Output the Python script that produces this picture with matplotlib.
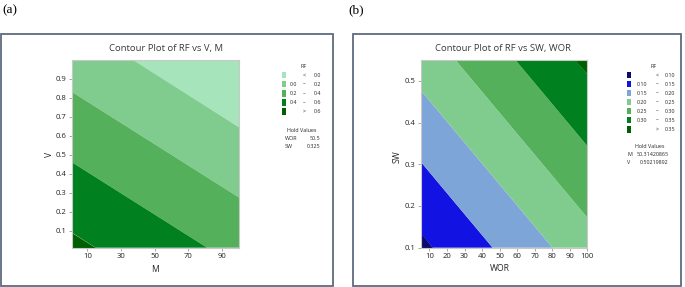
import numpy as np
import matplotlib
matplotlib.use("Agg")
import matplotlib.pyplot as plt
from matplotlib.patches import Rectangle

# ---------------- data ----------------
# Panel (a): RF over M (x) and V (y), WOR and SW held
M_vals = [1, 100]
V_vals = [0.01, 1.0]
RF_a = [[0.642, 0.343],     # V = 0.01
        [0.108, -0.192]]    # V = 1.0
levels_a = [0.0, 0.2, 0.4, 0.6]
colors_a = ["#a6e4bb", "#80cc8f", "#55b05b", "#00801f", "#005f00"]
ticks_ax = [10, 30, 50, 70, 90]
ticks_ay = [0.1, 0.2, 0.3, 0.4, 0.5, 0.6, 0.7, 0.8, 0.9]
hold_a = [("WOR", "50.5"), ("SW", "0.325")]

# Panel (b): RF over WOR (x) and SW (y), M and V held
WOR_vals = [5, 100]
SW_vals = [0.1, 0.55]
RF_b = [[0.090, 0.229],     # SW = 0.1
        [0.221, 0.360]]     # SW = 0.55
levels_b = [0.10, 0.15, 0.20, 0.25, 0.30, 0.35]
colors_b = ["#0b0b6b", "#1212e2", "#7ea5d8", "#80cc8f", "#55b05b", "#00801f", "#005f00"]
ticks_bx = [10, 20, 30, 40, 50, 60, 70, 80, 90, 100]
ticks_by = [0.1, 0.2, 0.3, 0.4, 0.5]
hold_b = [("M", "50.31420865"), ("V", "0.50219892")]

# ---------------- layout ----------------
W, H = 685, 287
fig = plt.figure(figsize=(W / 100, H / 100), dpi=100)
FONT = "Open Sans"
TXT = "#262626"


def fx(x):
    return x / W


def fy(y):
    return 1 - y / H


def ax_rect(x0, y0, x1, y1):
    return [fx(x0), fy(y1), fx(x1) - fx(x0), fy(y0) - fy(y1)]


# panel frames
for (x0, y0, x1, y1) in [(1, 34, 333, 286), (353, 34, 681, 286)]:
    fig.patches.append(Rectangle((fx(x0), fy(y1)), fx(x1) - fx(x0), fy(y0) - fy(y1),
                                 transform=fig.transFigure, fill=False,
                                 edgecolor="#5d6b7e", linewidth=1.3))

fig.text(fx(2), fy(10), "(a)", family="Liberation Serif", fontsize=9.5, va="center", ha="left")
fig.text(fx(348), fy(10), "(b)", family="Liberation Serif", fontsize=9.5, va="center", ha="left")


def contour_panel(rect, xv, yv, z, levels, colors, xt, yt, xlim, ylim, title, xlabel, ylabel,
                  title_xy, xlabel_xy, ylabel_xy, fmt_y):
    ax = fig.add_axes(rect)
    X, Y = np.meshgrid(xv, yv)
    lv = [-10] + list(levels) + [10]
    ax.contourf(X, Y, np.array(z), levels=lv, colors=colors, antialiased=True)
    ax.set_xlim(*xlim)
    ax.set_ylim(*ylim)
    ax.set_xticks(xt)
    ax.set_yticks(yt)
    ax.set_xticklabels([str(v) for v in xt])
    ax.set_yticklabels([fmt_y(v) for v in yt])
    ax.tick_params(length=2, width=0.6, color="#999999", labelsize=5.6, labelcolor=TXT, pad=2)
    for lab in ax.get_xticklabels() + ax.get_yticklabels():
        lab.set_family(FONT)
        lab.set_fontweight("medium")
    for s in ax.spines.values():
        s.set_color("#c8c8c8")
        s.set_linewidth(0.8)
    fig.text(fx(title_xy[0]), fy(title_xy[1]), title, family=FONT, fontsize=6.8,
             color="#3a3a3a", ha="center", va="center")
    fig.text(fx(xlabel_xy[0]), fy(xlabel_xy[1]), xlabel, family=FONT, fontsize=6.2,
             color=TXT, ha="center", va="center")
    fig.text(fx(ylabel_xy[0]), fy(ylabel_xy[1]), ylabel, family=FONT, fontsize=6.2,
             color=TXT, ha="center", va="center", rotation=90)
    return ax


contour_panel(ax_rect(72.3, 59.7, 239, 247.7), M_vals, V_vals, RF_a, levels_a, colors_a,
              ticks_ax, ticks_ay, (M_vals[0], M_vals[1]), (V_vals[0], V_vals[1]),
              "Contour Plot of RF vs V, M", "M", "V",
              (166, 49), (155, 270), (50, 154), lambda v: f"{v:.1f}")

contour_panel(ax_rect(420.7, 60, 587.3, 247.7), WOR_vals, SW_vals, RF_b, levels_b, colors_b,
              ticks_bx, ticks_by, (WOR_vals[0], WOR_vals[1]), (SW_vals[0], SW_vals[1]),
              "Contour Plot of RF vs SW, WOR", "WOR", "SW",
              (503, 49), (500, 268.5), (397, 156.5), lambda v: f"{v:.1f}")


def legend(levels, colors, fmt, title_x, sw_x, left_r, dash_x, right_r, row0, dy,
           hold, hold_title_xy, hold_lx, hold_rx, hold_y0, hold_dy):
    fs = 3.9
    fig.text(fx(title_x), fy(66.7), "RF", family=FONT, fontsize=fs, color=TXT,
             ha="center", va="center")
    n = len(levels) + 1
    for i in range(n):
        y = row0 + i * dy
        fig.patches.append(Rectangle((fx(sw_x), fy(y + 3.2)), fx(4.5), 6.5 / H,
                                     transform=fig.transFigure, facecolor=colors[i],
                                     edgecolor="none"))
        if i == 0:
            fig.text(fx(dash_x), fy(y), "<", family=FONT, fontsize=fs, color=TXT, ha="center", va="center")
            fig.text(fx(right_r), fy(y), fmt(levels[0]), family=FONT, fontsize=fs, color=TXT, ha="right", va="center")
        elif i == n - 1:
            fig.text(fx(dash_x), fy(y), ">", family=FONT, fontsize=fs, color=TXT, ha="center", va="center")
            fig.text(fx(right_r), fy(y), fmt(levels[-1]), family=FONT, fontsize=fs, color=TXT, ha="right", va="center")
        else:
            fig.text(fx(left_r), fy(y), fmt(levels[i - 1]), family=FONT, fontsize=fs, color=TXT, ha="right", va="center")
            fig.text(fx(dash_x), fy(y), "–", family=FONT, fontsize=fs, color=TXT, ha="center", va="center")
            fig.text(fx(right_r), fy(y), fmt(levels[i]), family=FONT, fontsize=fs, color=TXT, ha="right", va="center")
    fig.text(fx(hold_title_xy[0]), fy(hold_title_xy[1]), "Hold Values", family=FONT, fontsize=fs,
             color=TXT, ha="center", va="center")
    for j, (k, v) in enumerate(hold):
        y = hold_y0 + j * hold_dy
        fig.text(fx(hold_lx), fy(y), k, family=FONT, fontsize=fs, color=TXT, ha="left", va="center")
        fig.text(fx(hold_rx), fy(y), v, family=FONT, fontsize=fs, color=TXT, ha="right", va="center")


legend(levels_a, colors_a, lambda v: f"{v:.1f}", 303.5, 281.5, 297, 304.5, 321, 75, 9.15,
       hold_a, (301.5, 130), 284.5, 320, 138.3, 7.8)
legend(levels_b, colors_b, lambda v: f"{v:.2f}", 654, 626.5, 647, 657, 675, 75, 9.05,
       hold_b, (649.5, 146.7), 627, 668.5, 155, 7.8)

fig.savefig("out.png", dpi=100)
